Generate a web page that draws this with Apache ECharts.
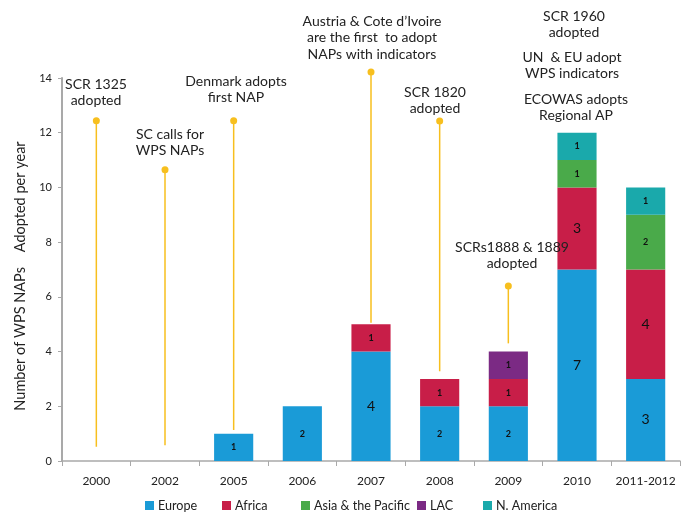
<!DOCTYPE html>
<html><head><meta charset="utf-8">
<script src="https://cdn.jsdelivr.net/npm/echarts@6/dist/echarts.min.js"></script>
<style>html,body{margin:0;padding:0;background:#fff}#c{width:689px;height:514px}</style>
</head><body><div id="c"></div>
<script>
// ---- data ----
var categories = ['2000','2002','2005','2006','2007','2008','2009','2010','2011-2012'];
var seriesNames = ['Europe','Africa','Asia & the Pacific','LAC','N. America'];
var europe   = [0,0,1,2,4,2,2,7,3];
var africa   = [0,0,0,0,1,1,1,3,4];
var asiaPac  = [0,0,0,0,0,0,0,1,2];
var lac      = [0,0,0,0,0,0,1,0,0];
var nAmerica = [0,0,0,0,0,0,0,1,1];
var yTicks = [0,2,4,6,8,10,12,14];
// event annotations (category, line bottom value, dot value)
var annCats = ['2000','2002','2005','2007','2008','2009'];
var annLow  = [0.52,0.58,1.13,5.05,3.28,4.3];
var annHigh = [12.44,10.65,12.44,14.22,12.43,6.4];
var annTexts = [
  'SCR 1325\nadopted',
  'SC calls for\nWPS NAPs',
  'Denmark adopts\nfirst NAP',
  'Austria & Cote d\u2019Ivoire\nare the first  to adopt\nNAPs with indicators',
  'SCR 1820\nadopted',
  'SCRs1888 & 1889\nadopted',
  'SCR 1960\nadopted',
  'UN  & EU adopt\nWPS indicators',
  'ECOWAS adopts\nRegional AP'
];
// ---- layout ----
var textPos = [[96,76],[170,126],[236,73],[372,13],[435,84],[512,239],[574,8],[572,49],[576,91]];
var legendLeft = [140,217,296,412,478];

var FONT = 'Lato, "Open Sans", sans-serif';
var colors = ['#1a9bd7','#c81e48','#4aaa4a','#7b2a84','#1aa9ab'];
var values = [europe, africa, asiaPac, lac, nAmerica];

function barLabel(){
  return {show:true, position:'inside', fontFamily:FONT, color:'#111',
    formatter:function(p){ if(!p.value) return ''; return p.value>=3?'{b|'+p.value+'}':'{s|'+p.value+'}'; },
    rich:{b:{fontSize:14,fontFamily:FONT,color:'#111'}, s:{fontSize:9,fontFamily:FONT,color:'#111',fontWeight:'bold'}}};
}

var annData = annCats.map(function(c,i){ return [categories.indexOf(c), annLow[i], annHigh[i]]; });

var graphics = textPos.map(function(p,i){
  return {type:'text', x:p[0], y:p[1], z:100,
    style:{text:annTexts[i], fontFamily:FONT, fontSize:14, lineHeight:16.5, fill:'#222', align:'center', verticalAlign:'top'}};
});
graphics.push({type:'text', x:20, y:276, rotation:Math.PI/2, z:100,
  style:{text:'Number of WPS NAPs    Adopted per year', fontFamily:FONT, fontSize:14.5, fill:'#222', align:'center', verticalAlign:'middle'}});

var series = seriesNames.map(function(n,i){
  return {name:n, type:'bar', stack:'t', data:values[i], barCategoryGap:'43%',
    itemStyle:{color:colors[i]}, label:barLabel(), emphasis:{disabled:true}};
});
series.push({type:'custom', data:annData, z:5, silent:true,
  renderItem:function(params, api){
    var lo = api.coord([api.value(0), api.value(1)]);
    var hi = api.coord([api.value(0), api.value(2)]);
    return {type:'group', children:[
      {type:'line', shape:{x1:lo[0],y1:lo[1],x2:hi[0],y2:hi[1]}, style:{stroke:'#f7bf1e', lineWidth:1.5}},
      {type:'circle', shape:{cx:hi[0], cy:hi[1], r:3.5}, style:{fill:'#f7bf1e'}}
    ]};
  }});

var legends = seriesNames.map(function(n,i){
  return {top:494, left:legendLeft[i], itemWidth:9, itemHeight:9, itemGap:0, icon:'rect',
    textStyle:{fontFamily:FONT, fontSize:12.6, color:'#222', padding:[0,0,0,-1]}, data:[n]};
});

var chart = echarts.init(document.getElementById('c'));
chart.setOption({
  animation:false,
  color:colors,
  grid:{left:62, right:9, top:78, bottom:53},
  legend:legends,
  xAxis:{type:'category', data:categories,
    axisLine:{lineStyle:{color:'#a9a9a9', width:1.5}},
    axisTick:{show:true, length:5, lineStyle:{color:'#a9a9a9'}},
    axisLabel:{interval:0, fontFamily:FONT, fontSize:12, color:'#222', margin:14}},
  yAxis:{type:'value', min:yTicks[0], max:yTicks[yTicks.length-1], interval:2,
    splitLine:{show:false},
    axisLine:{show:true, lineStyle:{color:'#a9a9a9', width:2}},
    axisTick:{show:true, length:4, lineStyle:{color:'#a9a9a9'}},
    axisLabel:{fontFamily:FONT, fontSize:11, color:'#222', margin:10}},
  graphic:graphics,
  series:series
});
</script></body></html>
